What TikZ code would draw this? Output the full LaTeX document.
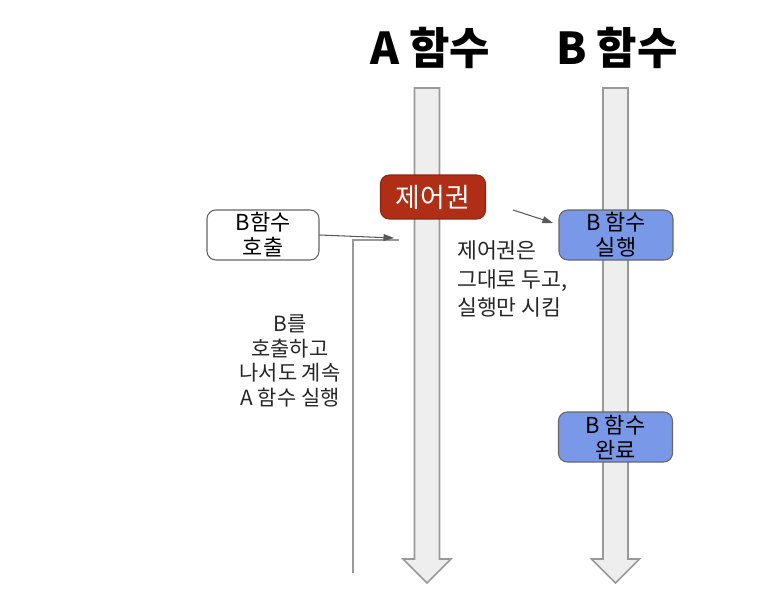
\documentclass[tikz,border=0pt]{standalone}
\usepackage{fontspec}
\setmainfont{Noto Sans CJK KR}
\usetikzlibrary{arrows.meta,calc}
\definecolor{FnRed}{RGB}{176,46,22}
\definecolor{FnBlue}{RGB}{122,152,232}
\definecolor{FnShaft}{RGB}{238,238,238}
\definecolor{FnShaftLine}{RGB}{153,153,153}
\definecolor{FnLine}{RGB}{89,89,89}
\definecolor{FnBorder}{RGB}{102,102,102}
\tikzset{
  fn/box/.style={
    draw=FnBorder,
    line width=0.6pt,
    rounded corners=5pt,
    fill=white,
    align=center,
    text=black,
    minimum width=2.24cm,
    minimum height=1cm,
    inner sep=1pt,
    font=\fontsize{12.5}{14.2}\selectfont
  },
  fn/runbox/.style={fn/box, fill=FnBlue, minimum width=2.28cm},
  fn/ctrlbox/.style={
    draw=FnRed!80!black,
    line width=0.6pt,
    rounded corners=5pt,
    fill=FnRed,
    text=white,
    minimum width=2.1cm,
    minimum height=0.88cm,
    font=\fontsize{15.3}{17}\selectfont
  },
  fn/shaft/.style={draw=FnShaftLine, line width=0.9pt, fill=FnShaft, line join=miter},
  fn/title/.style={font=\fontsize{25}{28}\selectfont\bfseries, text=black},
  fn/note/.style={font=\fontsize{12.3}{16.4}\selectfont, text=black!85, align=left},
  fn/cnote/.style={font=\fontsize{11.9}{13.9}\selectfont, text=black!85, align=center},
  fn/line/.style={draw=FnShaftLine, line width=0.6pt},
  fn/arrow/.style={-{Triangle[length=6pt,width=4pt]}, draw=FnLine, line width=0.6pt}
}
\begin{document}
\begin{tikzpicture}[x=0.02cm,y=-0.02cm]
  \useasboundingbox (0,0) rectangle (782,611);
  \foreach \cx in {427,615.5} {
    \draw[fn/shaft] (\cx-12.5,88) -- (\cx+12.5,88) -- (\cx+12.5,559) -- (\cx+24,559)
      -- (\cx,583) -- (\cx-24,559) -- (\cx-12.5,559) -- cycle;
  }
  \node[fn/title] (titleA) at (430,48) {A 함수};
  \node[fn/title] (titleB) at (617,48) {B 함수};
  \node[fn/ctrlbox] (ctrl) at (433,197) {제어권};
  \node[fn/box] (call) at (263,235) {B함수\\호출};
  \node[fn/runbox] (bexec) at (616,235) {B 함수\\실행};
  \node[fn/runbox] (bdone) at (615.5,437) {B 함수\\완료};
  \node[fn/note,anchor=west] (keepnote) at (451,279) {제어권은\\그대로 두고,\\실행만 시킴};
  \node[fn/cnote] (keeprun) at (290,361) {B를\\호출하고\\나서도 계속\\A 함수 실행};
  \coordinate (loopbot) at (353,573);
  \coordinate (loopend) at (399,240);
  \coordinate (callin) at (394,238);
  \coordinate (ctrlfrom) at (513,210);
  \coordinate (ctrlto) at (553,223);
  \draw[fn/line] (loopbot) |- (loopend);
  \draw[fn/arrow] (call.east) -- (callin);
  \draw[fn/arrow] (ctrlfrom) -- (ctrlto);
\end{tikzpicture}
\end{document}
